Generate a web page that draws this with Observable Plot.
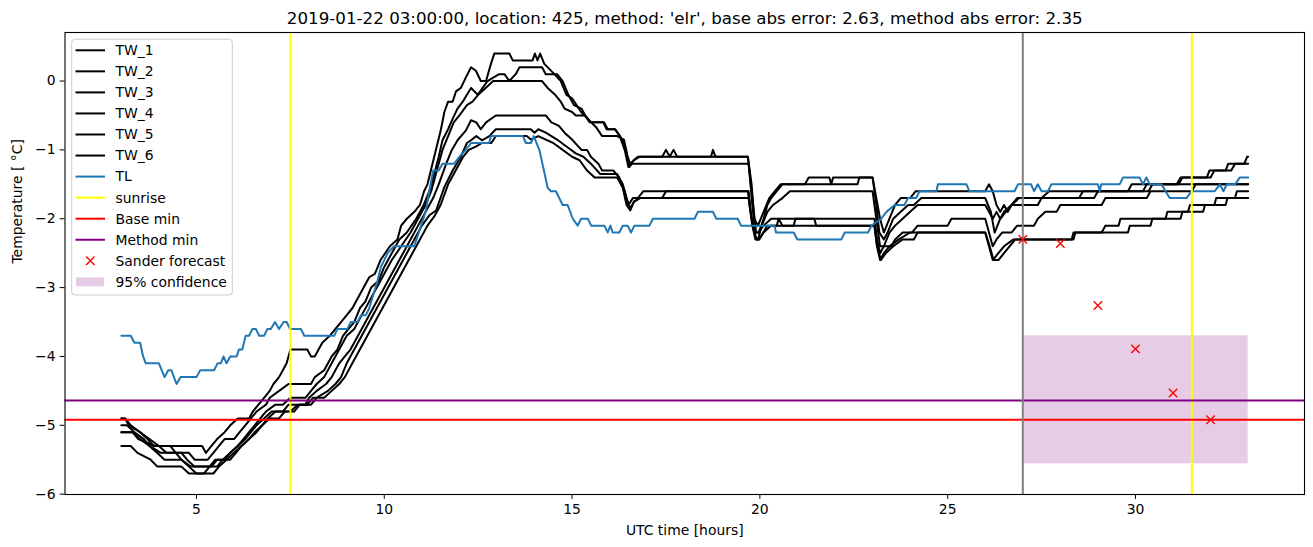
<!DOCTYPE html>
<html><head><meta charset="utf-8">
<script src="https://cdn.jsdelivr.net/npm/d3@7"></script>
<script src="https://cdn.jsdelivr.net/npm/@observablehq/plot@0.6"></script>
<style>
html,body{margin:0;padding:0;background:#fff;}
#wrap{position:relative;width:1313px;height:547px;}
#wrap svg{display:block;}
.overlay{position:absolute;left:0;top:0;pointer-events:none;}
</style></head><body><div id="wrap"></div>
<script>
// ---------- data (hours UTC, temperature °C) ----------
const TW_1 = [[3.0,-5.1],[3.3,-5.1],[3.45,-5.2],[3.9,-5.3],[5.15,-5.3],[5.25,-5.4],[5.4,-5.3],[5.55,-5.2],[5.75,-5.1],[5.9,-5.0],[6.1,-4.9],[6.4,-4.9],[6.5,-4.8],[6.65,-4.7],[6.8,-4.6],[6.95,-4.5],[7.05,-4.4],[7.2,-4.3],[7.3,-4.2],[7.4,-4.1],[7.45,-4.0],[7.5,-3.9],[7.95,-3.9],[8.05,-4.0],[8.15,-4.0],[8.25,-3.9],[8.35,-3.8],[8.55,-3.7],[8.7,-3.6],[8.85,-3.5],[9.0,-3.4],[9.15,-3.3],[9.45,-3.0],[9.6,-2.85],[9.75,-2.8],[9.9,-2.6],[10.15,-2.4],[10.35,-2.3],[10.45,-2.1],[10.6,-2.0],[10.8,-1.9],[10.95,-1.8],[11.06,-1.6],[11.15,-1.5],[11.24,-1.3],[11.33,-1.1],[11.42,-0.9],[11.51,-0.7],[11.6,-0.45],[11.7,-0.3],[11.82,-0.3],[11.91,-0.15],[12.04,-0.1],[12.17,0.05],[12.31,0.2],[12.44,0.15],[12.57,0.0],[12.71,0.0],[12.84,0.25],[12.93,0.4],[13.33,0.4],[13.42,0.3],[13.95,0.3],[14.01,0.4],[14.08,0.3],[14.15,0.4],[14.26,0.25],[14.53,0.1],[14.7,0.0],[14.85,-0.2],[15.0,-0.25],[15.24,-0.45],[15.42,-0.55],[15.64,-0.67],[15.8,-0.8],[16.2,-0.8],[16.38,-0.85],[16.46,-1.05],[16.52,-1.25],[16.64,-1.15],[16.8,-1.1],[17.4,-1.1],[17.5,-1.0],[17.6,-1.1],[17.7,-1.0],[17.8,-1.1],[18.7,-1.1],[18.75,-1.0],[18.82,-1.1],[19.68,-1.1],[19.8,-1.7],[19.9,-2.2],[19.97,-2.2],[20.1,-2.0],[20.2,-1.8],[20.3,-1.7],[20.45,-1.6],[20.6,-1.5],[21.2,-1.5],[21.3,-1.4],[21.85,-1.4],[21.9,-1.5],[21.95,-1.4],[23.0,-1.4],[23.1,-1.7],[23.2,-2.0],[23.3,-2.2],[23.45,-2.0],[23.6,-1.8],[23.75,-1.7],[24.0,-1.7],[24.15,-1.6],[26.0,-1.6],[26.1,-1.5],[26.2,-1.6],[26.3,-1.8],[26.4,-1.9],[26.5,-1.8],[26.6,-1.9],[26.7,-1.8],[26.9,-1.7],[27.5,-1.7],[27.7,-1.6],[30.2,-1.6],[30.3,-1.5],[31.1,-1.5],[31.2,-1.4],[31.9,-1.4],[31.97,-1.3],[32.4,-1.3],[32.47,-1.2],[32.9,-1.2],[32.97,-1.1],[33.0,-1.1]];
const TW_2 = [[3.0,-4.9],[3.1,-4.9],[3.25,-5.0],[3.5,-5.1],[3.7,-5.2],[3.85,-5.3],[4.3,-5.3],[4.45,-5.4],[4.8,-5.4],[4.95,-5.5],[5.3,-5.5],[5.45,-5.4],[5.6,-5.3],[5.75,-5.2],[6.0,-5.2],[6.15,-5.1],[6.3,-5.0],[6.45,-4.9],[6.6,-4.8],[6.85,-4.7],[6.95,-4.6],[7.2,-4.5],[7.45,-4.4],[8.05,-4.4],[8.15,-4.3],[8.4,-4.2],[8.6,-4.0],[8.75,-3.9],[8.9,-3.7],[9.05,-3.6],[9.2,-3.5],[9.35,-3.3],[9.5,-3.2],[9.65,-3.0],[9.85,-2.9],[10.0,-2.7],[10.2,-2.5],[10.4,-2.3],[10.6,-2.2],[10.85,-2.0],[11.05,-1.8],[11.2,-1.6],[11.33,-1.35],[11.45,-1.1],[11.55,-0.86],[11.7,-0.7],[11.82,-0.55],[11.95,-0.4],[12.09,-0.3],[12.2,-0.2],[12.31,-0.1],[12.49,-0.2],[12.62,-0.1],[12.75,0.0],[12.9,0.05],[13.06,0.1],[13.2,0.1],[13.33,0.0],[13.5,0.1],[13.6,0.2],[14.2,0.2],[14.3,0.1],[14.6,0.1],[14.75,0.0],[14.9,-0.2],[15.05,-0.35],[15.25,-0.4],[15.35,-0.5],[15.5,-0.6],[15.85,-0.6],[15.95,-0.7],[16.15,-0.7],[16.28,-0.8],[16.38,-0.9],[16.48,-1.1],[16.55,-1.2],[16.65,-1.15],[16.75,-1.1],[19.68,-1.1],[19.78,-1.5],[19.85,-2.0],[19.95,-2.1],[20.1,-1.9],[20.25,-1.7],[20.4,-1.6],[20.55,-1.5],[22.6,-1.5],[22.65,-1.4],[23.0,-1.4],[23.1,-1.8],[23.18,-2.2],[23.3,-2.3],[23.4,-2.2],[23.55,-2.0],[23.75,-1.9],[23.95,-1.8],[24.1,-1.8],[24.3,-1.7],[26.0,-1.7],[26.15,-1.9],[26.25,-2.2],[26.4,-2.0],[26.55,-1.9],[26.7,-1.8],[26.85,-1.7],[28.5,-1.7],[28.6,-1.6],[30.35,-1.6],[30.45,-1.5],[31.15,-1.5],[31.25,-1.4],[32.0,-1.4],[32.1,-1.3],[32.55,-1.3],[32.65,-1.2],[33.0,-1.2]];
const TW_3 = [[3.0,-5.0],[3.15,-5.0],[3.35,-5.1],[3.6,-5.2],[3.75,-5.3],[4.05,-5.4],[4.45,-5.4],[4.6,-5.5],[4.85,-5.6],[5.35,-5.6],[5.5,-5.5],[5.7,-5.5],[5.9,-5.4],[6.1,-5.3],[6.25,-5.2],[6.4,-5.1],[6.55,-5.0],[6.7,-4.9],[6.85,-4.8],[7.1,-4.7],[7.3,-4.7],[7.5,-4.6],[7.9,-4.6],[8.05,-4.5],[8.2,-4.4],[8.4,-4.3],[8.6,-4.1],[8.8,-3.9],[9.0,-3.7],[9.2,-3.6],[9.4,-3.4],[9.6,-3.2],[9.8,-3.0],[10.0,-2.8],[10.2,-2.6],[10.45,-2.4],[10.7,-2.2],[10.9,-2.0],[11.1,-1.8],[11.25,-1.6],[11.4,-1.3],[11.55,-1.0],[11.7,-0.8],[11.85,-0.6],[12.0,-0.5],[12.2,-0.35],[12.35,-0.3],[12.5,-0.2],[12.7,-0.1],[12.9,0.0],[14.2,0.0],[14.35,-0.1],[14.55,-0.2],[14.7,-0.3],[14.8,-0.4],[15.0,-0.45],[15.1,-0.5],[15.34,-0.5],[15.47,-0.6],[15.83,-0.6],[15.92,-0.7],[16.14,-0.7],[16.27,-0.8],[16.4,-1.0],[16.5,-1.25],[16.6,-1.2],[19.7,-1.2],[19.8,-1.8],[19.88,-2.26],[19.95,-2.3],[20.05,-2.1],[20.2,-1.9],[20.35,-1.8],[20.6,-1.7],[20.8,-1.6],[23.0,-1.6],[23.1,-2.0],[23.2,-2.4],[23.3,-2.4],[23.45,-2.2],[23.6,-2.1],[23.8,-2.0],[24.0,-1.9],[24.2,-1.8],[26.0,-1.8],[26.1,-1.9],[26.2,-2.0],[26.3,-1.9],[26.4,-2.0],[26.5,-1.9],[26.7,-1.8],[27.4,-1.8],[27.5,-1.7],[28.9,-1.7],[29.0,-1.6],[29.8,-1.6],[29.9,-1.5],[33.0,-1.5]];
const TW_4 = [[3.0,-4.9],[3.1,-4.9],[3.2,-5.0],[3.5,-5.1],[3.75,-5.2],[4.0,-5.3],[4.2,-5.4],[4.6,-5.4],[4.75,-5.5],[4.95,-5.6],[5.4,-5.6],[5.55,-5.5],[5.75,-5.5],[5.9,-5.4],[6.1,-5.3],[6.3,-5.2],[6.45,-5.1],[6.6,-5.0],[6.8,-4.9],[7.0,-4.8],[7.3,-4.8],[7.45,-4.7],[7.9,-4.7],[8.0,-4.6],[8.2,-4.5],[8.45,-4.4],[8.6,-4.3],[8.8,-4.1],[8.95,-4.0],[9.1,-3.9],[9.3,-3.7],[9.5,-3.5],[9.7,-3.3],[9.9,-3.1],[10.1,-2.9],[10.3,-2.7],[10.5,-2.5],[10.7,-2.3],[10.9,-2.1],[11.1,-1.9],[11.3,-1.7],[11.45,-1.5],[11.65,-1.2],[11.8,-1.0],[11.95,-0.86],[12.17,-0.72],[12.31,-0.57],[12.45,-0.6],[12.57,-0.7],[12.71,-0.6],[12.97,-0.5],[14.3,-0.5],[14.45,-0.6],[14.65,-0.65],[14.8,-0.75],[15.0,-0.85],[15.25,-1.0],[15.4,-1.0],[15.5,-1.1],[15.7,-1.2],[15.8,-1.3],[16.1,-1.3],[16.25,-1.4],[16.4,-1.6],[16.5,-1.8],[16.62,-1.7],[16.75,-1.7],[16.9,-1.6],[19.68,-1.6],[19.75,-1.9],[19.85,-2.2],[19.95,-2.2],[20.1,-2.1],[20.3,-2.0],[23.05,-2.0],[23.12,-2.3],[23.2,-2.5],[23.3,-2.4],[23.5,-2.4],[23.6,-2.3],[23.8,-2.2],[24.05,-2.2],[24.2,-2.1],[25.0,-2.1],[25.1,-2.0],[26.0,-2.0],[26.1,-2.2],[26.2,-2.4],[26.3,-2.3],[26.45,-2.2],[26.7,-2.2],[26.85,-2.1],[27.3,-2.1],[27.4,-2.0],[27.6,-1.9],[27.9,-1.9],[28.0,-1.8],[29.1,-1.8],[29.2,-1.7],[30.3,-1.7],[30.4,-1.6],[31.5,-1.6],[31.6,-1.5],[33.0,-1.5]];
const TW_5 = [[3.0,-5.1],[3.3,-5.1],[3.5,-5.2],[3.75,-5.3],[3.95,-5.4],[4.15,-5.5],[4.6,-5.5],[4.8,-5.6],[5.0,-5.7],[5.45,-5.7],[5.6,-5.6],[5.8,-5.5],[6.0,-5.4],[6.2,-5.3],[6.4,-5.2],[6.55,-5.1],[6.75,-5.0],[6.95,-4.9],[7.2,-4.9],[7.35,-4.8],[7.6,-4.8],[7.75,-4.7],[8.05,-4.7],[8.2,-4.6],[8.5,-4.5],[8.7,-4.4],[8.85,-4.3],[9.0,-4.1],[9.2,-3.9],[9.4,-3.7],[9.6,-3.5],[9.8,-3.3],[10.0,-3.1],[10.2,-2.9],[10.4,-2.7],[10.6,-2.5],[10.8,-2.3],[11.0,-2.1],[11.2,-1.95],[11.38,-1.88],[11.6,-1.54],[11.82,-1.3],[12.04,-1.1],[12.2,-0.9],[12.31,-0.86],[12.45,-0.8],[12.6,-0.86],[12.8,-0.8],[12.97,-0.7],[13.9,-0.7],[14.0,-0.75],[14.1,-0.7],[14.3,-0.75],[14.6,-0.85],[14.85,-0.95],[15.1,-1.05],[15.3,-1.1],[15.5,-1.2],[15.75,-1.35],[16.2,-1.35],[16.35,-1.5],[16.45,-1.7],[16.55,-1.85],[16.65,-1.75],[16.8,-1.7],[17.4,-1.7],[17.5,-1.6],[19.7,-1.6],[19.78,-2.0],[19.9,-2.3],[19.98,-2.3],[20.1,-2.2],[20.3,-2.1],[23.05,-2.1],[23.12,-2.4],[23.2,-2.6],[23.3,-2.5],[23.45,-2.4],[23.7,-2.3],[24.0,-2.2],[26.0,-2.2],[26.1,-2.4],[26.2,-2.6],[26.35,-2.5],[26.5,-2.4],[26.75,-2.3],[28.3,-2.3],[28.35,-2.2],[29.1,-2.2],[29.2,-2.1],[29.55,-2.1],[29.6,-2.0],[30.8,-2.0],[30.85,-1.9],[31.4,-1.9],[31.45,-1.8],[32.1,-1.8],[32.15,-1.7],[32.65,-1.7],[32.7,-1.6],[33.0,-1.6]];
const TW_6 = [[3.0,-5.3],[3.25,-5.3],[3.43,-5.4],[3.78,-5.5],[3.96,-5.6],[4.6,-5.6],[4.8,-5.7],[5.2,-5.7],[5.35,-5.6],[5.55,-5.6],[5.7,-5.5],[5.9,-5.5],[6.05,-5.4],[6.2,-5.3],[6.4,-5.2],[6.6,-5.1],[6.75,-5.0],[6.9,-4.9],[7.1,-4.8],[7.5,-4.8],[7.7,-4.7],[7.95,-4.7],[8.1,-4.6],[8.4,-4.6],[8.6,-4.5],[8.8,-4.4],[8.95,-4.3],[9.15,-4.1],[9.35,-3.9],[9.55,-3.7],[9.75,-3.5],[9.95,-3.3],[10.15,-3.1],[10.35,-2.9],[10.55,-2.7],[10.75,-2.5],[10.95,-2.3],[11.15,-2.1],[11.35,-1.95],[11.5,-1.8],[11.7,-1.5],[11.9,-1.3],[12.1,-1.1],[12.25,-1.0],[12.45,-0.95],[12.6,-0.9],[12.85,-0.9],[12.97,-0.8],[13.8,-0.8],[13.9,-0.85],[14.1,-0.8],[14.3,-0.85],[14.5,-0.9],[14.75,-1.0],[15.0,-1.1],[15.2,-1.15],[15.4,-1.3],[15.6,-1.4],[16.2,-1.4],[16.35,-1.55],[16.45,-1.8],[16.55,-1.88],[16.65,-1.75],[16.8,-1.7],[19.7,-1.7],[19.8,-2.1],[19.88,-2.3],[19.98,-2.3],[20.2,-2.1],[20.45,-2.1],[20.5,-2.0],[20.6,-2.1],[20.9,-2.1],[20.95,-2.0],[21.45,-2.0],[21.5,-2.1],[23.05,-2.1],[23.12,-2.4],[23.22,-2.6],[23.35,-2.5],[23.55,-2.4],[23.8,-2.3],[24.1,-2.3],[24.2,-2.2],[26.0,-2.2],[26.12,-2.4],[26.22,-2.6],[26.35,-2.6],[26.5,-2.5],[26.8,-2.3],[28.35,-2.3],[28.4,-2.2],[29.8,-2.2],[29.85,-2.1],[30.4,-2.1],[30.45,-2.0],[31.2,-2.0],[31.25,-1.9],[31.8,-1.9],[31.85,-1.8],[32.4,-1.8],[32.45,-1.7],[33.0,-1.7]];
const TL = [[3.0,-3.7],[3.25,-3.7],[3.35,-3.8],[3.5,-3.8],[3.58,-4.0],[3.65,-4.1],[4.0,-4.1],[4.15,-4.3],[4.25,-4.2],[4.33,-4.2],[4.47,-4.4],[4.58,-4.3],[5.0,-4.3],[5.1,-4.2],[5.47,-4.2],[5.56,-4.1],[5.65,-4.1],[5.72,-4.0],[5.8,-4.1],[5.9,-4.0],[6.07,-4.0],[6.13,-3.9],[6.22,-3.9],[6.31,-3.7],[6.4,-3.7],[6.49,-3.6],[6.58,-3.6],[6.67,-3.7],[6.8,-3.7],[6.89,-3.6],[6.98,-3.6],[7.09,-3.5],[7.2,-3.6],[7.32,-3.5],[7.4,-3.5],[7.49,-3.6],[7.78,-3.6],[7.87,-3.7],[8.67,-3.7],[8.75,-3.6],[9.02,-3.6],[9.11,-3.5],[9.29,-3.5],[9.38,-3.4],[9.51,-3.4],[9.6,-3.3],[9.82,-2.9],[9.91,-2.7],[10.09,-2.5],[10.26,-2.4],[10.8,-2.4],[10.98,-2.1],[11.1,-1.9],[11.2,-1.6],[11.3,-1.3],[11.45,-1.3],[11.55,-1.2],[11.86,-1.2],[12.0,-1.1],[12.17,-1.0],[12.31,-0.9],[12.79,-0.9],[12.84,-0.8],[13.69,-0.8],[13.77,-0.9],[13.91,-0.9],[13.98,-0.8],[14.13,-1.0],[14.35,-1.55],[14.44,-1.6],[14.57,-1.6],[14.75,-1.8],[14.88,-1.8],[15.02,-2.0],[15.15,-2.1],[15.24,-2.0],[15.42,-2.0],[15.51,-2.1],[15.86,-2.1],[15.95,-2.2],[16.02,-2.1],[16.08,-2.2],[16.26,-2.2],[16.35,-2.1],[16.48,-2.1],[16.57,-2.2],[16.66,-2.1],[17.06,-2.1],[17.15,-2.0],[18.26,-2.0],[18.35,-1.9],[18.75,-1.9],[18.84,-2.0],[19.41,-2.0],[19.5,-2.1],[20.39,-2.1],[20.43,-2.2],[20.9,-2.2],[21.0,-2.3],[22.17,-2.3],[22.26,-2.2],[22.88,-2.2],[22.97,-2.1],[23.23,-2.0],[23.37,-1.9],[23.59,-1.8],[23.85,-1.8],[23.94,-1.7],[24.16,-1.7],[24.25,-1.6],[24.7,-1.6],[24.74,-1.5],[25.5,-1.5],[25.58,-1.6],[26.78,-1.6],[26.87,-1.5],[27.22,-1.5],[27.3,-1.6],[27.4,-1.5],[27.5,-1.6],[27.67,-1.6],[27.76,-1.5],[29.0,-1.5],[29.05,-1.6],[29.09,-1.5],[29.58,-1.5],[29.67,-1.4],[30.11,-1.4],[30.2,-1.5],[30.29,-1.4],[30.38,-1.5],[30.69,-1.5],[30.91,-1.7],[31.36,-1.7],[31.49,-1.6],[32.11,-1.6],[32.25,-1.5],[32.34,-1.6],[32.43,-1.5],[32.65,-1.5],[32.78,-1.4],[33.0,-1.4]];

const sunriseHours = [7.5, 31.5];
const forecastStartHour = [27];
const baseMin = [-4.92];
const methodMin = [-4.64];
const forecastHours = [27, 28, 29, 30, 31, 32];
const forecastTemps = [-2.30, -2.36, -3.26, -3.89, -4.53, -4.92];
const confidenceHours = [27, 33];
const confidenceTemps = [-5.56, -3.70];

const xTicks = [5, 10, 15, 20, 25, 30];
const yTicks = [-6, -5, -4, -3, -2, -1, 0];
const titleText = "2019-01-22 03:00:00, location: 425, method: 'elr', base abs error: 2.63, method abs error: 2.35";
const xLabel = "UTC time [hours]";
const yLabel = "Temperature [ °C]";
const legendLabels = ["TW_1","TW_2","TW_3","TW_4","TW_5","TW_6","TL","sunrise","Base min","Method min","Sander forecast","95% confidence"];

// ---------- tables ----------
const twSeries = [TW_1, TW_2, TW_3, TW_4, TW_5, TW_6];
const twRows = twSeries.flatMap((s, i) => s.map(([h, t]) => ({h, t, name: "TW_" + (i + 1)})));
const tlRows = TL.map(([h, t]) => ({h, t}));
const forecastRows = forecastHours.map((h, i) => ({h, t: forecastTemps[i]}));
const confRows = [{x1: confidenceHours[0], x2: confidenceHours[1], y1: confidenceTemps[0], y2: confidenceTemps[1]}];

const FONT = "DejaVu Sans, sans-serif";
const minus = d => (d < 0 ? "\u2212" + Math.abs(d) : String(d));

const chart = Plot.plot({
  width: 1313, height: 547,
  marginLeft: 64.5, marginRight: 9, marginTop: 32, marginBottom: 53,
  x: {domain: [1.5, 34.5]},
  y: {domain: [-6.005, 0.705]},
  style: {fontFamily: FONT, fontSize: "13.9px", color: "black", background: "white"},
  marks: [
    Plot.rect(confRows, {x1: "x1", x2: "x2", y1: "y1", y2: "y2", fill: "purple", fillOpacity: 0.2}),
    Plot.line(twRows, {x: "h", y: "t", z: "name", stroke: "black", strokeWidth: 2}),
    Plot.line(tlRows, {x: "h", y: "t", stroke: "#1f77b4", strokeWidth: 2}),
    Plot.ruleX(sunriseHours, {stroke: "yellow", strokeWidth: 2}),
    Plot.ruleY(baseMin, {stroke: "red", strokeWidth: 2}),
    Plot.ruleY(methodMin, {stroke: "purple", strokeWidth: 2}),
    Plot.ruleX(forecastStartHour, {stroke: "gray", strokeWidth: 2}),
    Plot.dot(forecastRows, {x: "h", y: "t", symbol: "times", stroke: "red", r: 3.9, strokeWidth: 1.4}),
    Plot.axisX({ticks: xTicks, tickSize: 4.9, tickPadding: 4.6, label: null, tickFormat: d => String(d)}),
    Plot.axisY({ticks: yTicks, tickSize: 4.9, tickPadding: 4.6, label: null, tickFormat: minus}),
    Plot.frame({stroke: "black", strokeWidth: 1.1}),
    Plot.text([titleText], {frameAnchor: "top", dy: -14, text: d => d, fontSize: 16.7, lineAnchor: "middle", fill: "black"}),
    Plot.text([xLabel], {frameAnchor: "bottom", dy: 36, text: d => d, lineAnchor: "middle", fill: "black"}),
    Plot.text([yLabel], {frameAnchor: "left", dx: -47, rotate: -90, text: d => d, lineAnchor: "middle", fill: "black"})
  ]
});
const wrap = document.getElementById("wrap");
wrap.appendChild(chart);

// ---------- legend overlay ----------
const legendStyles = [
  {kind: "line", color: "black"}, {kind: "line", color: "black"}, {kind: "line", color: "black"},
  {kind: "line", color: "black"}, {kind: "line", color: "black"}, {kind: "line", color: "black"},
  {kind: "line", color: "#1f77b4"}, {kind: "line", color: "yellow"}, {kind: "line", color: "red"},
  {kind: "line", color: "purple"}, {kind: "cross", color: "red"}, {kind: "patch", color: "purple"}
];
const lg = d3.select(wrap).append("svg").attr("class", "overlay").attr("width", 1313).attr("height", 547);
const box = {x: 71.7, y: 39.3, w: 160.6, h: 255.7};
lg.append("rect").attr("x", box.x).attr("y", box.y).attr("width", box.w).attr("height", box.h)
  .attr("rx", 3).attr("fill", "white").attr("fill-opacity", 0.8).attr("stroke", "#cccccc").attr("stroke-width", 1);
legendLabels.forEach((label, i) => {
  const cy = 50.3 + i * 21.05;
  const st = legendStyles[i];
  if (st.kind === "line") {
    lg.append("line").attr("x1", 75.5).attr("x2", 105).attr("y1", cy).attr("y2", cy)
      .attr("stroke", st.color).attr("stroke-width", 2);
  } else if (st.kind === "cross") {
    const r = 4.2;
    lg.append("path").attr("d", `M${90.3 - r},${cy - r}L${90.3 + r},${cy + r}M${90.3 - r},${cy + r}L${90.3 + r},${cy - r}`)
      .attr("stroke", st.color).attr("stroke-width", 1.4).attr("fill", "none");
  } else {
    lg.append("rect").attr("x", 76).attr("y", cy - 4.5).attr("width", 28).attr("height", 9)
      .attr("fill", st.color).attr("fill-opacity", 0.2);
  }
  lg.append("text").attr("x", 115.5).attr("y", cy).attr("dy", "0.35em")
    .attr("font-family", FONT).attr("font-size", "13.9px").attr("fill", "black").text(label);
});
</script></body></html>
